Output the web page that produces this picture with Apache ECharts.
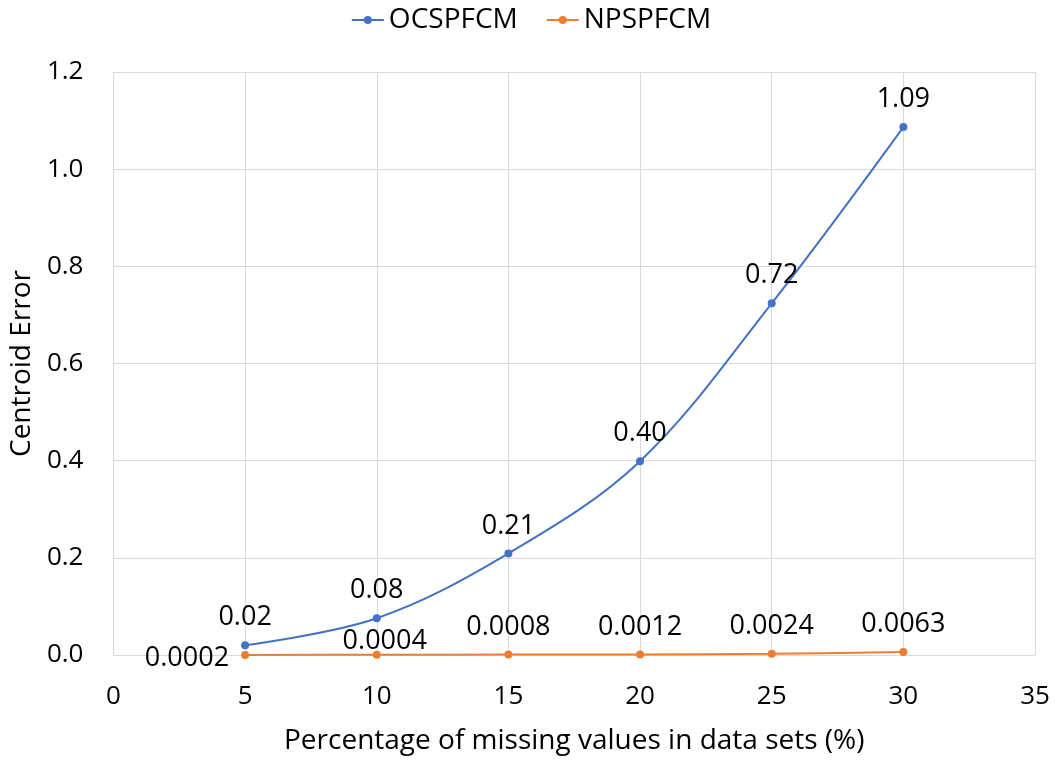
<!DOCTYPE html>
<html lang="en" style="height: 100%">
<head>
<meta charset="UTF-8">
</head>
<body style="height: 100%; margin: 0">
<div id="container" style="height: 100%"></div>
<script src="https://cdn.jsdelivr.net/npm/echarts@6/dist/echarts.min.js"></script>
<script>
var missing = [5, 10, 15, 20, 25, 30];
var ocspfcm = [0.0203, 0.0757, 0.209, 0.399, 0.724, 1.0866];
var npspfcm = [0.0002, 0.0004, 0.0008, 0.0012, 0.0024, 0.0063];

var FONT = 'Open Sans';
var chart = echarts.init(document.getElementById('container'), null, { renderer: 'canvas' });

function pairs(vals) {
  return vals.map(function (v, i) { return [missing[i], v]; });
}

// Excel nudged a couple of the orange labels, do the same
var npData = pairs(npspfcm).map(function (p, i) {
  if (i === 0) {
    return { value: p, label: { position: 'left', distance: 12, offset: [0, 3] } };
  }
  if (i === 1) {
    return { value: p, label: { offset: [8, 14] } };
  }
  return p;
});

chart.setOption({
  backgroundColor: '#fff',
  textStyle: { fontFamily: FONT },
  legend: {
    top: 1,
    left: 'center',
    itemWidth: 32,
    itemHeight: 10,
    itemGap: 28,
    textStyle: { fontSize: 28, color: '#000', fontFamily: FONT },
    data: ['OCSPFCM', 'NPSPFCM']
  },
  grid: { left: 111, right: 27, top: 72, bottom: 117 },
  xAxis: {
    type: 'value',
    min: 0, max: 35, interval: 5,
    name: 'Percentage of missing values in data sets (%)',
    nameLocation: 'middle',
    nameGap: 72,
    nameTextStyle: { fontSize: 28, color: '#000', fontFamily: FONT },
    axisLine: { show: false },
    axisTick: { show: false },
    axisLabel: { fontSize: 26, color: '#000', margin: 29, fontFamily: FONT },
    splitLine: { lineStyle: { color: '#d9d9d9' } }
  },
  yAxis: {
    type: 'value',
    min: 0, max: 1.2, interval: 0.2,
    name: 'Centroid Error',
    nameLocation: 'middle',
    nameGap: 74,
    nameTextStyle: { fontSize: 28, color: '#000', fontFamily: FONT },
    axisLine: { show: false },
    axisTick: { show: false },
    axisLabel: {
      fontSize: 26, color: '#000', margin: 30, fontFamily: FONT,
      formatter: function (v) { return v.toFixed(1); }
    },
    splitLine: { lineStyle: { color: '#d9d9d9' } }
  },
  series: [
    {
      name: 'OCSPFCM',
      type: 'line',
      smooth: 0.35,
      symbol: 'circle',
      symbolSize: 8,
      color: '#4472c4',
      lineStyle: { width: 2 },
      data: pairs(ocspfcm),
      label: {
        show: true, position: 'top', distance: 10,
        fontSize: 27, color: '#000', fontFamily: FONT,
        formatter: function (p) { return p.value[1].toFixed(2); }
      }
    },
    {
      name: 'NPSPFCM',
      type: 'line',
      smooth: 0.35,
      symbol: 'circle',
      symbolSize: 8,
      color: '#ed7d31',
      lineStyle: { width: 2 },
      data: npData,
      label: {
        show: true, position: 'top', distance: 10,
        fontSize: 27, color: '#000', fontFamily: FONT,
        formatter: function (p) { return p.value[1].toFixed(4); }
      }
    }
  ]
});
window.addEventListener('resize', chart.resize);
</script>
</body>
</html>
